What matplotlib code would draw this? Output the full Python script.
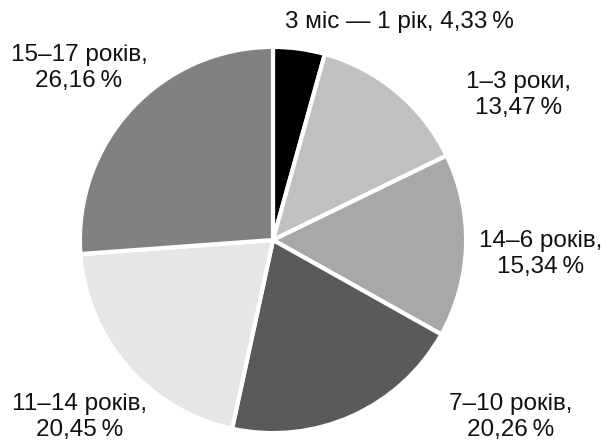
import matplotlib
matplotlib.use("Agg")
import matplotlib.pyplot as plt

categories = ["3 міс — 1 рік", "1–3 роки", "14–6 років", "7–10 років", "11–14 років", "15–17 років"]
values = [4.33, 13.47, 15.34, 20.26, 20.45, 26.16]
colors = ["#000000", "#c0c0c0", "#a8a8a8", "#5a5a5a", "#e6e6e6", "#818181"]

plt.rcParams['font.family'] = ['Liberation Sans', 'DejaVu Sans']

W, H = 610, 443
fig = plt.figure(figsize=(W / 100, H / 100), dpi=100)
cx, cy, r = 273, 240, 195
ax = fig.add_axes([(cx - r) / W, (H - (cy + r)) / H, 2 * r / W, 2 * r / H])
ax.pie(values, colors=colors, startangle=90, counterclock=False,
       wedgeprops=dict(edgecolor="white", linewidth=3), radius=1)
ax.set_xlim(-1.01, 1.01)
ax.set_ylim(-1.01, 1.01)
ax.set_aspect("equal")
ax.axis("off")

def fmt(v):
    return f"{v:.2f}".replace(".", ",") + "\u2009%"

# label positions (pixel centers)
pos = [(399, 22, False), (519, 95, True), (541, 254, True),
       (511, 417, True), (80, 417, True), (79, 68, True)]
for (x, y, two), c, v in zip(pos, categories, values):
    txt = f"{c},\n{fmt(v)}" if two else f"{c}, {fmt(v)}"
    fig.text(x / W, 1 - y / H, txt, ha="center", va="center",
             fontsize=17.5, color="#111111", linespacing=1.2)

fig.savefig("out.png", dpi=100, facecolor="white")
